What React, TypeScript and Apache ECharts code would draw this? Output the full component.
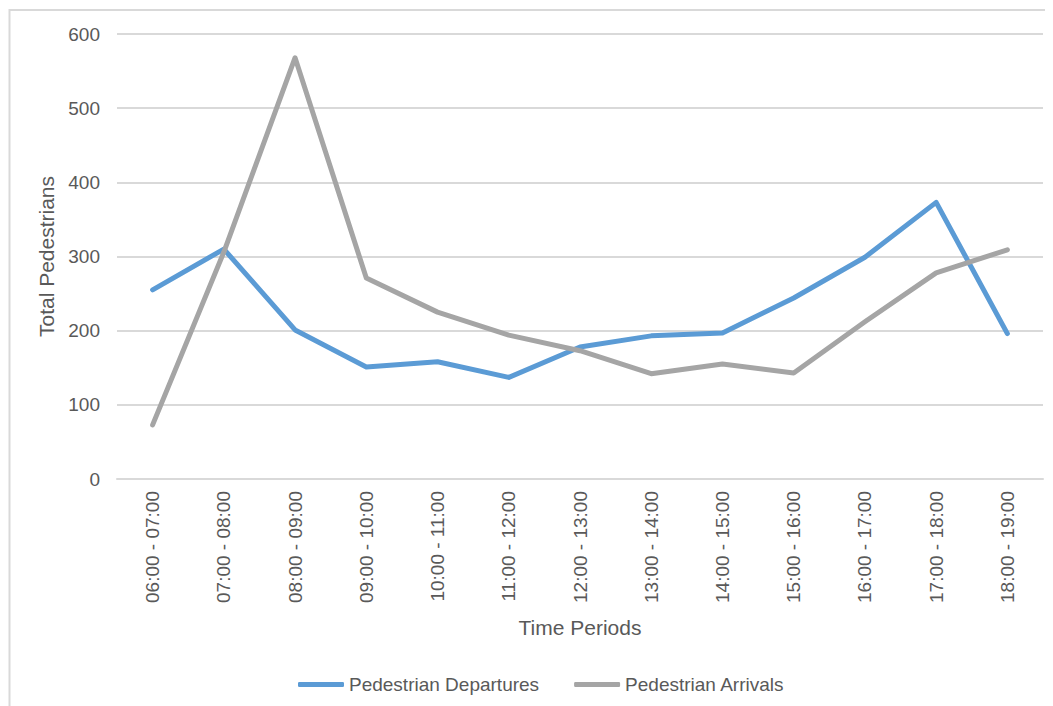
import React, { useEffect, useRef } from "react";
import * as echarts from "echarts";

const categories = [
  "06:00 - 07:00",
  "07:00 - 08:00",
  "08:00 - 09:00",
  "09:00 - 10:00",
  "10:00 - 11:00",
  "11:00 - 12:00",
  "12:00 - 13:00",
  "13:00 - 14:00",
  "14:00 - 15:00",
  "15:00 - 16:00",
  "16:00 - 17:00",
  "17:00 - 18:00",
  "18:00 - 19:00",
];
const departures = [255, 310, 201, 151, 158, 137, 178, 193, 197, 244, 299, 373, 196];
const arrivals = [73, 306, 568, 271, 225, 194, 173, 142, 155, 143, 212, 278, 309];

const FONT = "'Liberation Sans', Arial, sans-serif";
const TEXT = "#595959";
const GRIDC = "#d9d9d9";

export default function App() {
  const ref = useRef<HTMLDivElement>(null);
  useEffect(() => {
    if (!ref.current) return;
    const chart = echarts.init(ref.current, undefined, { renderer: "svg" });
    chart.setOption({
      animation: false,
      backgroundColor: "#ffffff",
      textStyle: { fontFamily: FONT, color: TEXT },
      graphic: [
        {
          type: "rect",
          shape: { x: 1.5, y: 2, width: 1200, height: 900 },
          style: { fill: "none", stroke: GRIDC, lineWidth: 2 },
          silent: true,
        },
      ],
      grid: { left: 109, right: 10, top: 26, bottom: 227 },
      legend: {
        left: 285,
        top: 662,
        icon: "roundRect",
        itemWidth: 46,
        itemHeight: 5,
        itemGap: 35,
        textStyle: { fontFamily: FONT, color: TEXT, fontSize: 19, padding: [0, 0, 0, 0] },
        data: ["Pedestrian Departures", "Pedestrian Arrivals"],
      },
      xAxis: {
        type: "category",
        data: categories,
        boundaryGap: true,
        name: "Time Periods",
        nameLocation: "middle",
        nameGap: 138,
        nameTextStyle: { fontFamily: FONT, color: TEXT, fontSize: 21 },
        axisLine: { show: true, lineStyle: { color: GRIDC, width: 2 } },
        axisTick: { show: false },
        axisLabel: {
          rotate: 90,
          margin: 12,
          fontSize: 19,
          color: TEXT,
          fontFamily: FONT,
          interval: 0,
        },
      },
      yAxis: {
        type: "value",
        min: 0,
        max: 600,
        interval: 100,
        name: "Total Pedestrians",
        nameLocation: "middle",
        nameRotate: 90,
        nameGap: 64,
        nameTextStyle: { fontFamily: FONT, color: TEXT, fontSize: 21, verticalAlign: "middle" },
        axisLine: { show: false },
        axisTick: { show: false },
        axisLabel: { margin: 17, fontSize: 19, color: TEXT, fontFamily: FONT },
        splitLine: { lineStyle: { color: GRIDC, width: 2 } },
      },
      series: [
        {
          name: "Pedestrian Departures",
          type: "line",
          data: departures,
          showSymbol: false,
          symbol: "none",
          lineStyle: { color: "#5b9bd5", width: 5, cap: "round", join: "round" },
          itemStyle: { color: "#5b9bd5" },
        },
        {
          name: "Pedestrian Arrivals",
          type: "line",
          data: arrivals,
          showSymbol: false,
          symbol: "none",
          lineStyle: { color: "#a5a5a5", width: 5, cap: "round", join: "round" },
          itemStyle: { color: "#a5a5a5" },
        },
      ],
    });
    return () => chart.dispose();
  }, []);
  return <div ref={ref} style={{ width: 1045, height: 698 }} />;
}
